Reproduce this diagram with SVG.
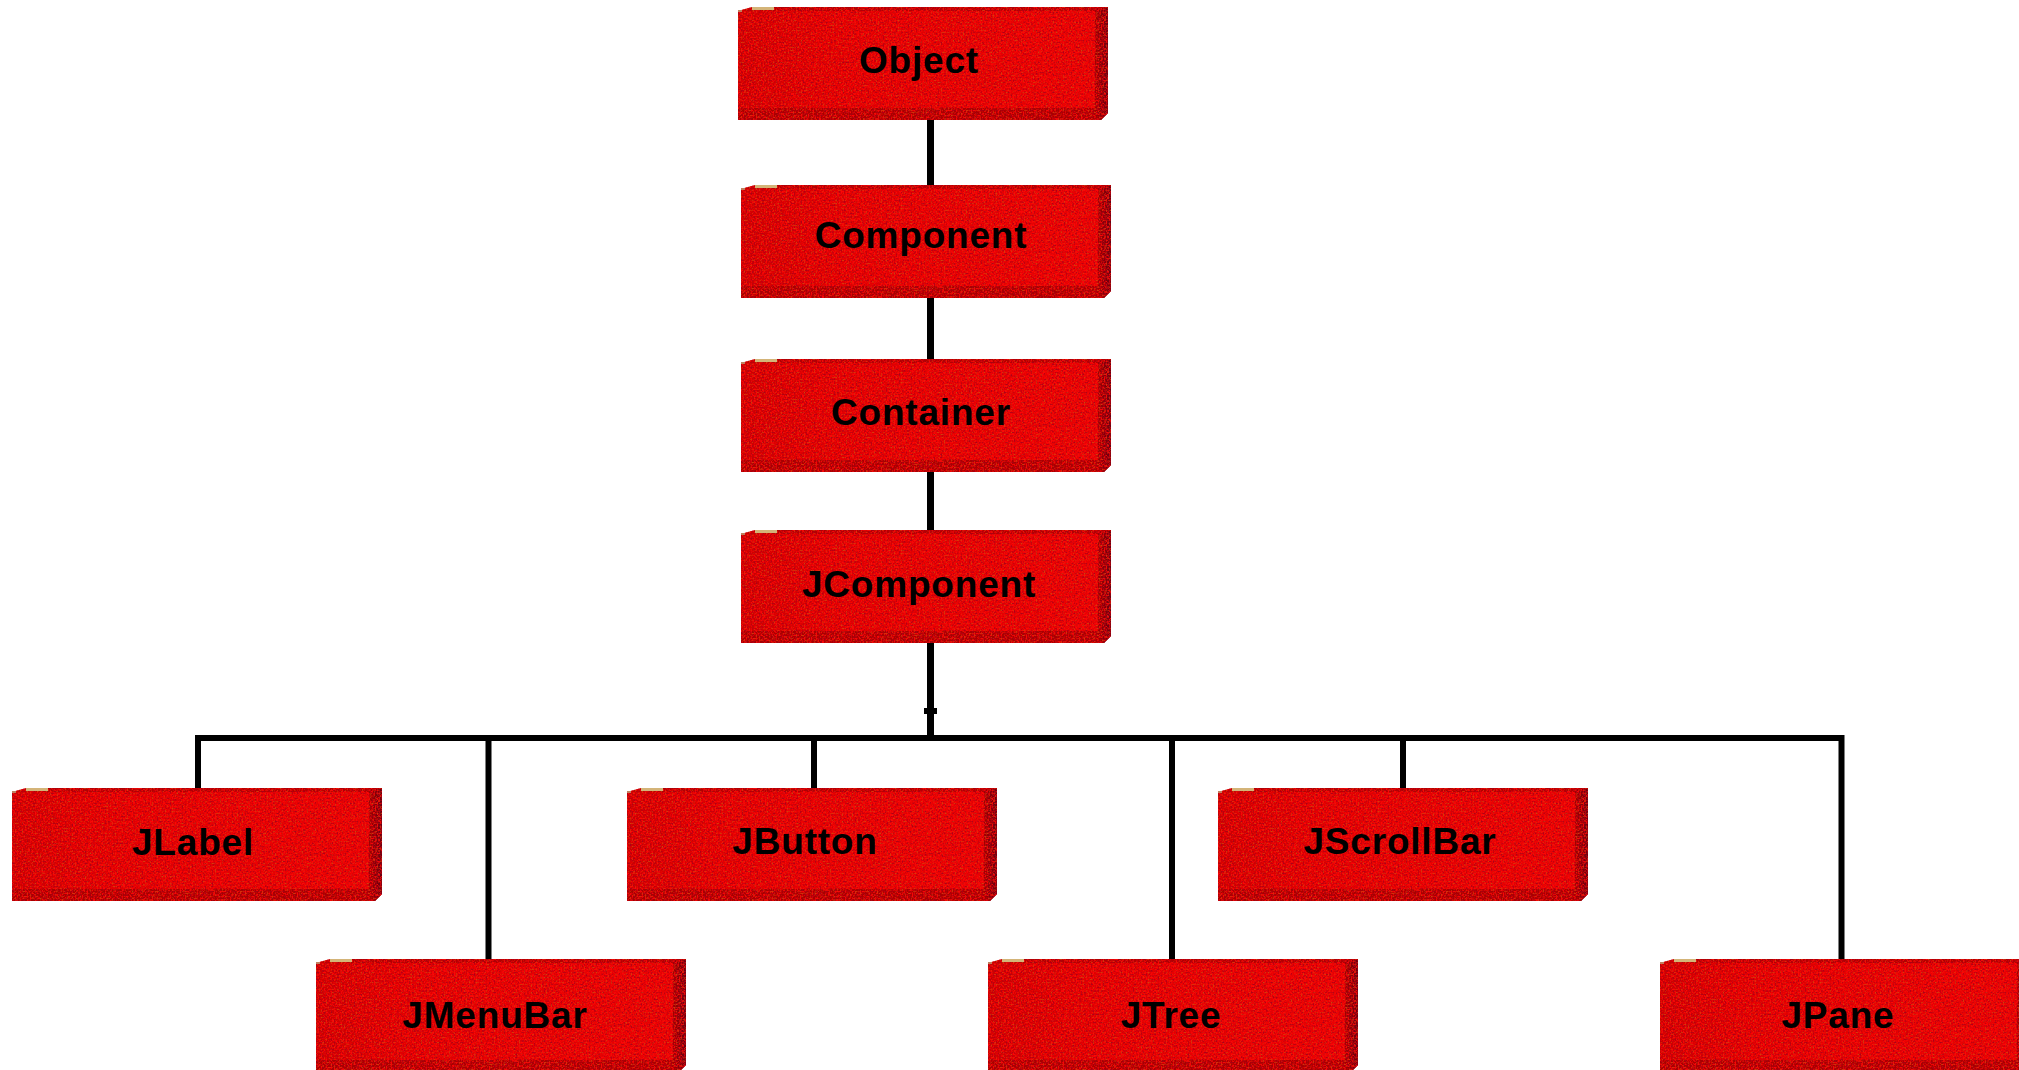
<svg xmlns="http://www.w3.org/2000/svg" xmlns:xlink="http://www.w3.org/1999/xlink" width="2019" height="1070" viewBox="0 0 2019 1070">
<style>
.lbl{font-family:"Liberation Sans",Arial,Helvetica,sans-serif;font-weight:bold;font-size:37px;text-anchor:middle;fill:#000;letter-spacing:0.8px}
.wire{stroke:#000;fill:none;stroke-width:7}
.bus{stroke:#000;fill:none;stroke-width:6;stroke-linejoin:miter}
</style>
<defs>
<linearGradient id="faceGrad" x1="0" y1="0" x2="1" y2="0">
<stop offset="0" stop-color="#cc0000"/>
<stop offset="0.25" stop-color="#e00000"/>
<stop offset="1" stop-color="#e80202"/>
</linearGradient>
<linearGradient id="sideGrad" x1="0" y1="0" x2="1" y2="0">
<stop offset="0" stop-color="#a00000"/>
<stop offset="1" stop-color="#680010"/>
</linearGradient>
<filter id="grain" x="0" y="0" width="1" height="1" color-interpolation-filters="sRGB">
<feTurbulence type="fractalNoise" baseFrequency="0.6" numOctaves="1" seed="4" result="t"/>
<feColorMatrix in="t" type="matrix" values="0 0 0 0 1  0 0 0 0 0.03  0 0 0 0 0.03  5 0 0 0 -2.2" result="b"/>
<feColorMatrix in="t" type="matrix" values="0 0 0 0 0.66  0 0 0 0 0  0 0 0 0 0.1  0 4 0 0 -2.0" result="d"/>
<feColorMatrix in="t" type="matrix" values="0 0 0 0 0.82  0 0 0 0 0.28  0 0 0 0 0.05  0 0 5 0 -2.9" result="o"/>
<feMerge result="m"><feMergeNode in="b"/><feMergeNode in="d"/><feMergeNode in="o"/></feMerge>
<feComposite in="m" in2="SourceAlpha" operator="in"/>
</filter>
<g id="box">
<polygon points="0,4 14,0 370,0 370,106 363,113 0,113" fill="#c40000"/>
<rect x="0" y="4" width="358" height="98" fill="url(#faceGrad)"/>
<rect x="14" y="0" width="356" height="4" fill="#b40000"/>
<rect x="0" y="101" width="362" height="12" fill="#a80000"/>
<polygon points="357,1 370,1 370,106 363,113 357,108" fill="url(#sideGrad)"/>
<polygon points="0,4 14,0 370,0 370,106 363,113 0,113" fill="#000" filter="url(#grain)" opacity="0.9"/>
<rect x="14" y="0" width="22" height="3" fill="#d4b478"/>
<rect x="0" y="3" width="4" height="2" fill="#c08060"/>
</g>
</defs>
<rect width="2019" height="1070" fill="#fff"/>
<g id="connectors">
<line class="wire" x1="930.5" y1="120" x2="930.5" y2="185"/>
<line class="wire" x1="930.5" y1="298" x2="930.5" y2="359"/>
<line class="wire" x1="930.5" y1="472" x2="930.5" y2="530"/>
<line class="wire" x1="930.5" y1="643" x2="930.5" y2="738"/>
<rect x="924" y="708" width="13" height="6" fill="#000"/>
<path class="bus" d="M198 788 V738 H1841.5 V959"/>
<line class="bus" x1="488.5" y1="738" x2="488.5" y2="959"/>
<line class="bus" x1="814" y1="738" x2="814" y2="788"/>
<line class="bus" x1="1172" y1="738" x2="1172" y2="959"/>
<line class="bus" x1="1403" y1="738" x2="1403" y2="788"/>
</g>
<g id="node-object" transform="translate(738,7)"><use xlink:href="#box" href="#box"/><text class="lbl" x="181" y="66">Object</text></g>
<g id="node-component" transform="translate(741,185)"><use xlink:href="#box" href="#box"/><text class="lbl" x="180" y="63">Component</text></g>
<g id="node-container" transform="translate(741,359)"><use xlink:href="#box" href="#box"/><text class="lbl" x="180" y="66">Container</text></g>
<g id="node-jcomponent" transform="translate(741,530)"><use xlink:href="#box" href="#box"/><text class="lbl" x="178" y="67">JComponent</text></g>
<g id="node-jlabel" transform="translate(12,788)"><use xlink:href="#box" href="#box"/><text class="lbl" x="181" y="67">JLabel</text></g>
<g id="node-jbutton" transform="translate(627,788)"><use xlink:href="#box" href="#box"/><text class="lbl" x="178" y="66">JButton</text></g>
<g id="node-jscrollbar" transform="translate(1218,788)"><use xlink:href="#box" href="#box"/><text class="lbl" x="182" y="66">JScrollBar</text></g>
<g id="node-jmenubar" transform="translate(316,959)"><use xlink:href="#box" href="#box"/><text class="lbl" x="179" y="69">JMenuBar</text></g>
<g id="node-jtree" transform="translate(988,959)"><use xlink:href="#box" href="#box"/><text class="lbl" x="183" y="69">JTree</text></g>
<g id="node-jpane" transform="translate(1660,959)"><use xlink:href="#box" href="#box"/><text class="lbl" x="178" y="69">JPane</text></g>
</svg>
